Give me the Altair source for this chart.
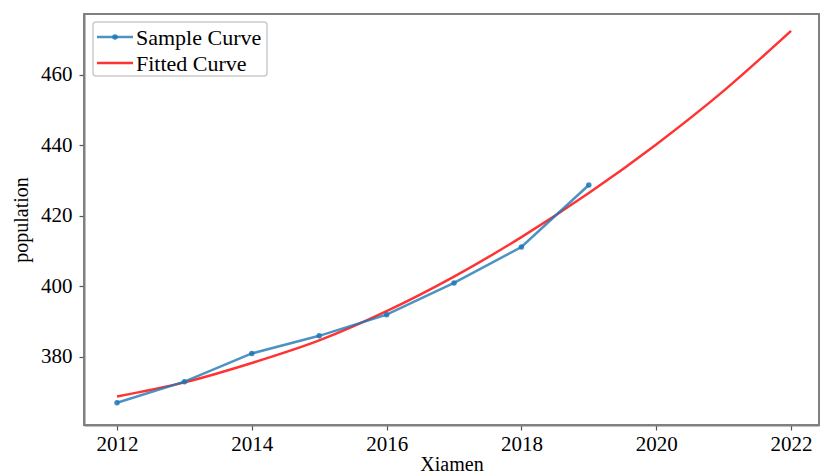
import altair as alt
import pandas as pd

# ---- data ----
sample_years = [2012, 2013, 2014, 2015, 2016, 2017, 2018, 2019]
sample_values = [367.0, 373.0, 381.0, 386.0, 392.0, 401.0, 411.2, 428.8]

fit_years = [2012, 2013, 2014, 2015, 2016, 2017, 2018, 2019, 2020, 2021, 2022]
fit_values = [368.8, 372.8, 378.3, 384.7, 393.0, 402.8, 414.0, 426.5, 440.3, 455.5, 472.5]

legend_labels = ["Sample Curve", "Fitted Curve"]
x_ticks = [2012, 2014, 2016, 2018, 2020, 2022]
y_ticks = [380, 400, 420, 440, 460]

FONT = "Liberation Serif"
BLUE = "#1f77b4"
RED = "#ff0000"

sample_df = pd.DataFrame({"year": sample_years, "value": sample_values})
fit_df = pd.DataFrame({"year": fit_years, "value": fit_values})

x_scale = alt.Scale(domain=[2011.51, 2022.415], nice=False, zero=False)
y_scale = alt.Scale(domain=[360.7, 477.3], nice=False, zero=False)

x_axis = alt.Axis(
    title="Xiamen", values=x_ticks, format="d", grid=False,
    labelFont=FONT, titleFont=FONT, labelFontSize=21, titleFontSize=20,
    tickSize=5, labelPadding=3, titleX=367.5, titleY=45,
    titleBaseline="alphabetic", titleAlign="center",
)
y_axis = alt.Axis(
    title="population", values=y_ticks, format="d", grid=False,
    labelFont=FONT, titleFont=FONT, labelFontSize=21, titleFontSize=20,
    tickSize=5, labelPadding=7, titleX=-63, titleY=205.5,
    titleBaseline="middle", titleAlign="center", titleAngle=-90,
)

fitted = alt.Chart(fit_df).mark_line(
    color=RED, strokeWidth=2.5, opacity=0.8, interpolate="monotone"
).encode(
    x=alt.X("year:Q", scale=x_scale, axis=x_axis),
    y=alt.Y("value:Q", scale=y_scale, axis=y_axis),
)

sample_line = alt.Chart(sample_df).mark_line(
    color=BLUE, strokeWidth=2.5, opacity=0.8
).encode(
    x=alt.X("year:Q", scale=x_scale),
    y=alt.Y("value:Q", scale=y_scale),
)
sample_pts = alt.Chart(sample_df).mark_circle(
    color=BLUE, size=30, opacity=0.85
).encode(
    x=alt.X("year:Q", scale=x_scale),
    y=alt.Y("value:Q", scale=y_scale),
)

# ---- manual legend (styled like matplotlib's) ----
one = pd.DataFrame({"k": [0]})
leg_box = alt.Chart(one).mark_rect(
    fill="white", fillOpacity=0.85, stroke="#cccccc", strokeWidth=1.5, cornerRadius=3
).encode(x=alt.value(9), x2=alt.value(183), y=alt.value(8), y2=alt.value(62))

leg_blue = alt.Chart(one).mark_rule(color=BLUE, strokeWidth=2.5, opacity=0.8).encode(
    x=alt.value(13), x2=alt.value(49), y=alt.value(23))
leg_blue_pt = alt.Chart(one).mark_circle(color=BLUE, size=30, opacity=0.85).encode(
    x=alt.value(31), y=alt.value(23))
leg_red = alt.Chart(one).mark_rule(color=RED, strokeWidth=2.5, opacity=0.8).encode(
    x=alt.value(13), x2=alt.value(49), y=alt.value(49))

leg_text1 = alt.Chart(pd.DataFrame({"t": [legend_labels[0]]})).mark_text(
    font=FONT, fontSize=22, align="left", baseline="middle", color="black"
).encode(text="t:N", x=alt.value(52), y=alt.value(24))
leg_text2 = alt.Chart(pd.DataFrame({"t": [legend_labels[1]]})).mark_text(
    font=FONT, fontSize=22, align="left", baseline="middle", color="black"
).encode(text="t:N", x=alt.value(52), y=alt.value(50))

chart = alt.layer(
    fitted, sample_line, sample_pts,
    leg_box, leg_blue, leg_blue_pt, leg_red, leg_text1, leg_text2,
).properties(
    width=735, height=411,
    autosize=alt.AutoSizeParams(type="none"),
    padding={"left": 84, "top": 14, "right": 1, "bottom": 48},
    background="white",
).configure_view(
    stroke="#808080", strokeWidth=2
).configure_axis(
    labelFont=FONT, titleFont=FONT, labelFontSize=21, titleFontSize=20,
    labelColor="black", titleColor="black", titleFontWeight="normal",
    domainColor="#808080", domainWidth=2, tickColor="#555555", tickWidth=1.2,
)

chart.save("out.html", embed_options={"renderer": "svg", "actions": False})
